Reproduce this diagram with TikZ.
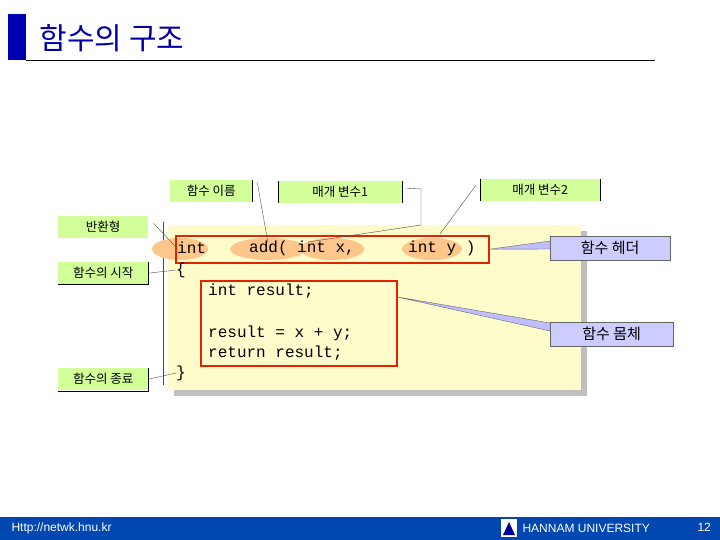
\documentclass[tikz,border=0pt]{standalone}
\usepackage{fontspec}
\setmainfont{Liberation Sans}
\newfontfamily\kr{Noto Sans CJK KR}
\newfontfamily\code{Liberation Mono}
\begin{document}
\begin{tikzpicture}[x=1pt,y=-1pt,
 glab/.style={fill=green!25!lime!40, minimum height=22pt, inner sep=2pt, font=\kr\fontsize{12.5}{12.5}\selectfont},
 blab/.style={fill=blue!20, draw=black!60, minimum height=24pt, inner sep=2pt, font=\kr\fontsize{15}{15}\selectfont},
 code/.style={anchor=west, inner sep=0pt, font=\code\fontsize{16}{16}\selectfont},
 blob/.style={fill=orange!45, draw=none},
 lead/.style={draw=black!70, thin}]
\useasboundingbox (0,0) rectangle (720,540);
% title
\fill[blue!70!black] (8,14) rectangle (26,60);
\draw (26,60) -- (655,60);
\node[anchor=west, text=blue!65!black, font=\kr\fontsize{30}{30}\selectfont] (title) at (36,38) {함수의 구조};
% panel
\fill[black!25] (174,231) rectangle (587,396);
\fill[yellow!20] (168,225) rectangle (581,390);
\draw[black!70] (163,222) -- (163,385);
% blobs
\fill[blob] (180,249) ellipse (28 and 11);
\fill[blob] (268,249) ellipse (38 and 11);
\fill[blob] (332,249) ellipse (32 and 11);
\fill[blob] (432,249) ellipse (30 and 11);
% header box
\node[draw=red!70!orange!90!black, line width=1.5pt, minimum width=313pt, minimum height=27pt, anchor=north west, inner sep=0pt] (hdr) at (175,235) {};
\node[draw=red!70!orange!90!black, line width=1.5pt, minimum width=196pt, minimum height=85pt, anchor=north west, inner sep=0pt] (body) at (200,280) {};
\node[code] (tint) at (177,248) {int};
\node[code] (tadd) at (249,248) {add( int x,};
\node[code] (ty) at (408,248) {int y )};
\node[code] (lb) at (176,270) {\{};
\node[code] (l1) at (208,291) {int result;};
\node[code] (l2) at (208,333) {result = x + y;};
\node[code] (l3) at (208,353) {return result;};
\node[code] (rb) at (176,373) {\}};
% green labels
\node[glab, minimum width=82pt, anchor=north west] (fname) at (170,180) {함수 이름};
\draw (252,180) -- (252,202);
\node[glab, minimum width=124pt, anchor=north west] (p1) at (278,181) {매개 변수1};
\draw (278,181) -- (278,203) (402,181) -- (402,203);
\node[glab, minimum width=120pt, anchor=north west] (p2) at (480,179) {매개 변수2};
\draw (480,179) -- (480,201) (600,179) -- (600,201);
\node[glab, minimum width=90pt, anchor=north west] (ret) at (58,216) {반환형};
\node[glab, minimum width=90pt, anchor=north west] (st) at (58,262) {함수의 시작};
\draw (58,284) -- (148,284) -- (148,262);
\node[glab, minimum width=90pt, anchor=north west] (en) at (58,368) {함수의 종료};
\draw (58,391) -- (148,391) -- (148,368);
% blue labels
\node[blab, minimum width=120pt, anchor=north west] (fh) at (550,236) {함수 헤더};
\node[blab, minimum width=123pt, anchor=north west] (fb) at (550,322) {함수 몸체};
% leaders
\draw[lead] (ret.east) ++(5,-4) -- (tint.west);
\draw[lead] (st.east) -- (lb.west);
\draw[lead] (en.east) -- (rb.west);
\draw[lead] (fname.north east) ++(5,3) -- (268,243);
\draw[lead] (p1.east) ++(4,-4) -- (421,189) -- (421,225) -- (308,242);
\draw[lead] (p2.west) ++(-4,-5) -- (440,234);
\fill[blue!25, draw=black!60] (hdr.east) -- (550,241) -- (550,249) -- cycle;
\fill[blue!25, draw=black!60] (body.north east) ++(0,17) -- (550,323) -- (550,331) -- cycle;
% footer
\fill[blue!60!cyan!70!black] (0,517) rectangle (720,540);
\node[anchor=west, text=white, font=\fontsize{12}{12}\selectfont] (url) at (8,528) {Http://netwk.hnu.kr};
\fill[white] (501,519) rectangle (517,537);
\fill[blue!60!black] (503,535) -- (509,522) -- (515,535) -- cycle;
\node[anchor=west, text=white, font=\fontsize{12}{12}\selectfont] (uni) at (519,528) {HANNAM UNIVERSITY};
\node[anchor=west, text=white, font=\fontsize{12}{12}\selectfont] (pg) at (694,527) {12};
\end{tikzpicture}
\end{document}
